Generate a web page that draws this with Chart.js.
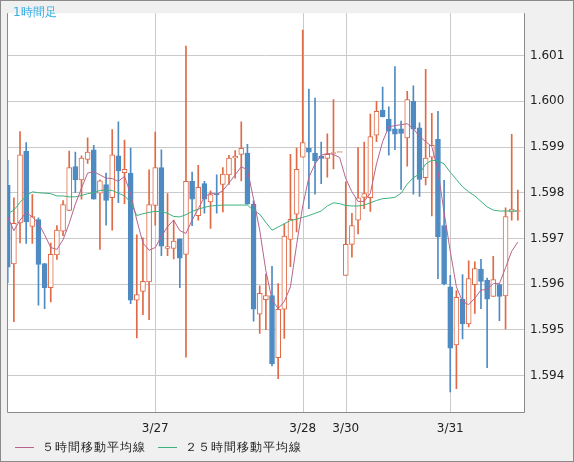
<!DOCTYPE html>
<html><head><meta charset="utf-8">
<script src="https://cdn.jsdelivr.net/npm/chart.js@4"></script>
<style>
html,body{margin:0;padding:0;background:#f0f0f0;}
#wrap{position:relative;width:574px;height:462px;box-sizing:border-box;}
#frame{position:absolute;left:0;top:0;width:574px;height:462px;box-sizing:border-box;border:1px solid #8a8a8a;pointer-events:none;}
#title{position:absolute;left:13px;top:4px;font:12px "DejaVu Sans",sans-serif;color:#33aee6;}
.lg{position:absolute;top:439px;font:12px "DejaVu Sans",sans-serif;color:#222;letter-spacing:1px;}
.sw{display:inline-block;width:19px;height:1px;vertical-align:middle;margin-right:8px;}
</style></head>
<body><div id="wrap"><canvas id="c" width="574" height="462"></canvas>
<div id="title">1時間足</div>
<div class="lg" style="left:15px"><span class="sw" style="background:#b8648e"></span>５時間移動平均線</div>
<div class="lg" style="left:158px"><span class="sw" style="background:#3cb27c"></span>２５時間移動平均線</div>
<div id="frame"></div></div>
<script>
const opens=[1.59816,1.59644,1.59734,1.59891,1.59726,1.59741,1.59645,1.59592,1.59664,1.59716,1.59761,1.59857,1.59828,1.59873,1.59894,1.59799,1.59818,1.59789,1.59881,1.59844,1.59843,1.59565,1.59584,1.59605,1.59772,1.59855,1.59678,1.59678,1.59699,1.59665,1.59825,1.5975,1.5982,1.5978,1.59798,1.59818,1.59839,1.59876,1.59884,1.59887,1.59775,1.59534,1.59566,1.59575,1.59439,1.59545,1.59698,1.59753,1.59878,1.59898,1.59887,1.5988,1.59875,1.59887,1.59889,1.59619,1.59687,1.5974,1.5979,1.59789,1.59926,1.59981,1.59961,1.5994,1.5994,1.5992,1.6,1.59942,1.59833,1.59878,1.59917,1.59728,1.59594,1.59467,1.59567,1.59513,1.59599,1.59633,1.59608,1.59573,1.59599,1.59574,1.59758,1.5976];
const highs=[1.59871,1.59789,1.59934,1.5991,1.59796,1.59745,1.59645,1.5969,1.59728,1.59783,1.59891,1.59889,1.59881,1.5992,1.59904,1.59828,1.59843,1.59938,1.59955,1.59915,1.59898,1.59708,1.59701,1.5985,1.59933,1.59894,1.59798,1.5974,1.59699,1.60121,1.59845,1.5986,1.59825,1.59804,1.59839,1.59855,1.59882,1.59892,1.59955,1.59906,1.59782,1.59596,1.59622,1.59639,1.59601,1.59732,1.59884,1.59898,1.60156,1.60027,1.60007,1.59911,1.59929,1.60004,1.59889,1.59824,1.59755,1.59899,1.59911,1.59972,1.6,1.60031,1.59988,1.60076,1.59957,1.60022,1.60034,1.59953,1.6007,1.59974,1.59978,1.59827,1.59619,1.59586,1.59621,1.59651,1.59649,1.59654,1.59613,1.59661,1.596,1.59767,1.59928,1.59806];
const lows=[1.59603,1.59518,1.5969,1.59689,1.59689,1.59554,1.59546,1.59561,1.59654,1.59706,1.59761,1.598,1.59786,1.59864,1.59786,1.59676,1.59729,1.59718,1.59778,1.59776,1.59557,1.59482,1.59533,1.59522,1.59729,1.59662,1.59662,1.59655,1.59592,1.5944,1.59728,1.5974,1.59755,1.59722,1.59755,1.59758,1.59818,1.59832,1.59826,1.59775,1.59519,1.59492,1.595,1.59421,1.59393,1.59481,1.59638,1.59714,1.59878,1.59765,1.59797,1.5982,1.59834,1.59852,1.59889,1.59619,1.59659,1.5971,1.59765,1.59759,1.59912,1.59966,1.59882,1.59894,1.59807,1.59858,1.59797,1.59792,1.59817,1.59749,1.59612,1.59598,1.59364,1.59371,1.5948,1.59506,1.59536,1.59546,1.59417,1.59573,1.5952,1.59502,1.5974,1.5974];
const closes=[1.59637,1.59733,1.59883,1.59736,1.59748,1.59643,1.59592,1.59665,1.59718,1.59774,1.59855,1.59828,1.59876,1.59889,1.59786,1.59826,1.59783,1.59883,1.59848,1.59851,1.59565,1.59577,1.59606,1.59774,1.59855,1.59683,1.59682,1.59694,1.59657,1.59825,1.59786,1.59812,1.59786,1.59796,1.59795,1.59841,1.59876,1.5988,1.59897,1.59775,1.59545,1.5958,1.59575,1.59426,1.59545,1.59705,1.59742,1.59851,1.5991,1.59889,1.5987,1.59875,1.59884,1.59889,1.5989,1.59687,1.59728,1.59789,1.59798,1.59923,1.59978,1.59966,1.59935,1.59928,1.5993,1.60004,1.59939,1.59829,1.59876,1.59904,1.59703,1.59601,1.5946,1.59571,1.59513,1.59612,1.59634,1.59606,1.59567,1.5961,1.59573,1.59748,1.59764,1.5976];
const ma5=[1.59747,1.59717,1.5974,1.59757,1.59747,1.59733,1.59708,1.5968,1.59676,1.59697,1.59733,1.59775,1.5981,1.59843,1.59846,1.59839,1.59832,1.59831,1.59825,1.59836,1.59797,1.5974,1.5969,1.59674,1.5968,1.59704,1.59726,1.5974,1.59717,1.59711,1.5974,1.59765,1.5979,1.598,1.59796,1.59805,1.59821,1.59839,1.59857,1.5985,1.59786,1.59718,1.59629,1.59566,1.59546,1.59562,1.59594,1.59686,1.59771,1.59834,1.59863,1.59882,1.59886,1.59884,1.59877,1.59831,1.59802,1.59781,1.59781,1.59799,1.59863,1.59912,1.59944,1.59947,1.59949,1.59951,1.5994,1.59923,1.59912,1.59901,1.59848,1.59757,1.59672,1.59594,1.59562,1.59555,1.59569,1.59587,1.59588,1.59601,1.59601,1.59636,1.59672,1.59692];
const ma25=[1.59754,1.59762,1.59779,1.59793,1.59802,1.598,1.59799,1.59798,1.59793,1.59793,1.59791,1.59791,1.59794,1.59798,1.598,1.59805,1.59806,1.59805,1.59799,1.59793,1.59779,1.5975,1.59754,1.59757,1.59759,1.59759,1.59755,1.59748,1.59747,1.59752,1.59759,1.59764,1.59768,1.59771,1.59772,1.59773,1.59773,1.59773,1.59773,1.59773,1.59761,1.59753,1.59735,1.59718,1.59725,1.59732,1.59739,1.59742,1.59746,1.5975,1.59755,1.5976,1.59771,1.59778,1.59776,1.59772,1.59771,1.59771,1.59773,1.59778,1.59783,1.59787,1.59788,1.5979,1.59799,1.59819,1.59833,1.59841,1.59863,1.59871,1.5987,1.59863,1.59845,1.59829,1.59813,1.59802,1.59793,1.59781,1.59769,1.59762,1.5976,1.5976,1.5976,1.5976];
const xTickPos=[24,48,55,72];
const xTickLabels=['3/27','3/28','3/30','3/31'];
const yTicks=[1.594,1.595,1.596,1.597,1.598,1.599,1.600,1.601];

const UP='#e06a45',DN='#4e8bc2';
const up=opens.map((o,i)=>closes[i]>=o);
const wicks=lows.map((l,i)=>({x:i,y:[l,highs[i]]}));
const bodies=opens.map((o,i)=>{let c=closes[i];if(Math.abs(c-o)<0.00002){return {x:i,y:[o-0.00001,o+0.00001]};}return {x:i,y:[Math.min(o,c),Math.max(o,c)]};});
const frame={id:'frame',
 beforeDraw(ch){const a=ch.chartArea,g=ch.ctx;g.save();g.fillStyle='#f0f0f0';g.fillRect(0,0,ch.width,ch.height);g.fillStyle='#fff';g.fillRect(a.left,a.top,a.right-a.left,a.bottom-a.top);g.restore();},
 beforeDatasetsDraw(ch){const a=ch.chartArea,g=ch.ctx,xs=ch.scales.x;g.save();g.strokeStyle='#cacaca';g.lineWidth=1;g.beginPath();xTickPos.forEach(v=>{const px=Math.round(xs.getPixelForValue(v))+0.5;g.moveTo(px,a.top);g.lineTo(px,a.bottom);});g.stroke();g.restore();},
 afterDraw(ch){const a=ch.chartArea,g=ch.ctx;g.save();g.strokeStyle='#8a8a8a';g.lineWidth=1;g.beginPath();g.moveTo(a.left+0.5,a.top);g.lineTo(a.left+0.5,a.bottom+0.5);g.lineTo(a.right+0.5,a.bottom+0.5);g.lineTo(a.right+0.5,a.top);g.stroke();g.restore();}};
new Chart(document.getElementById('c'),{
 type:'bar',
 data:{datasets:[
  {type:'line',data:ma5.map((v,i)=>({x:i,y:v})),borderColor:'#b8648e',borderWidth:1,pointRadius:0,tension:0,order:0},
  {type:'line',data:ma25.map((v,i)=>({x:i,y:v})),borderColor:'#3cb27c',borderWidth:1,pointRadius:0,tension:0,order:0},
  {data:bodies,backgroundColor:up.map(u=>u?'#ffffff':DN),borderColor:up.map(u=>u?UP:DN),borderWidth:1,borderSkipped:false,barThickness:5,grouped:false,order:1},
  {data:wicks,backgroundColor:up.map(u=>u?UP:DN),borderWidth:0,barThickness:1,grouped:false,order:2}
 ]},
 options:{responsive:false,animation:false,events:[],
  layout:{padding:{left:7,top:0,right:0,bottom:0}},
  plugins:{legend:{display:false},tooltip:{enabled:false}},
  scales:{
   x:{type:'linear',min:-0.12,max:84,offset:false,
      afterBuildTicks(s){s.ticks=xTickPos.map(v=>({value:v}));},
      afterFit(s){s.height=50;},
      ticks:{autoSkip:false,maxRotation:0,padding:2,color:'#222',font:{family:'DejaVu Sans',size:12},callback:(v)=>xTickLabels[xTickPos.indexOf(v)]},
      grid:{display:false},border:{display:false}},
   y:{position:'right',min:1.5932,max:1.60193,
      afterBuildTicks(s){s.ticks=yTicks.map(v=>({value:v}));},
      afterFit(s){s.width=50;},
      ticks:{padding:6,color:'#222',font:{family:'DejaVu Sans',size:12},callback:v=>v.toFixed(3)},
      grid:{color:'#cacaca',drawTicks:false},border:{display:false}}
  }},
 plugins:[frame]
});
</script></body></html>
